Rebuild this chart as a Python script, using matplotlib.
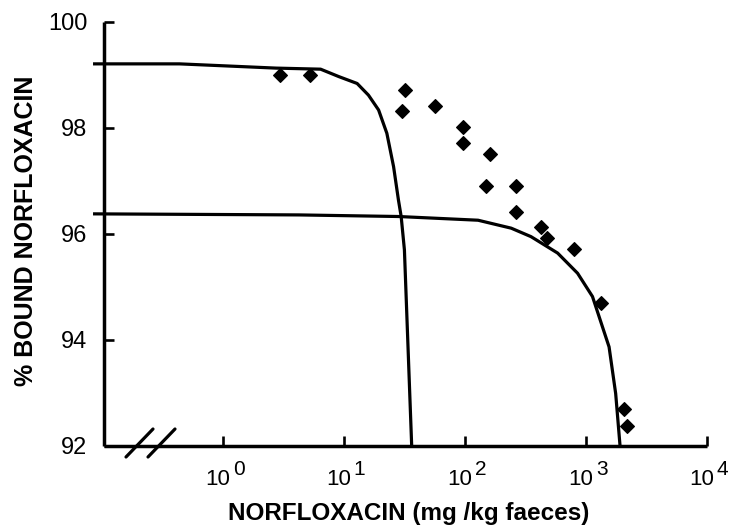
import matplotlib
matplotlib.use("Agg")
import matplotlib.pyplot as plt
from matplotlib.lines import Line2D

plt.rcParams['font.family'] = ['Liberation Sans', 'DejaVu Sans']

# ---- data ----
conc = [3.0, 5.3, 32.1, 30.1, 56.6, 96.8, 96.8, 160, 150, 265, 265,
        426, 477, 801, 1343, 2065, 2197]
bound = [99.0, 99.0, 98.72, 98.32, 98.42, 98.01, 97.71, 97.51, 96.91, 96.91,
         96.41, 96.13, 95.92, 95.71, 94.69, 92.69, 92.38]

curve1_x = [0.085, 0.44, 2.76, 6.44, 9.1, 12.9, 16.0, 19.4, 22.7, 25.8,
            28.3, 29.8, 31.7, 36.4]
curve1_y = [99.21, 99.21, 99.13, 99.11, 98.97, 98.84, 98.62, 98.34, 97.90,
            97.27, 96.64, 96.33, 95.70, 92.0]

curve2_x = [0.085, 4.27, 28.3, 128.6, 241.5, 352, 584, 853, 1133, 1553,
            1761, 1914]
curve2_y = [96.38, 96.36, 96.33, 96.26, 96.11, 95.95, 95.64, 95.26, 94.82,
            93.87, 92.99, 92.0]

xticks = [1, 10, 100, 1000, 10000]
xtick_exp = ['0', '1', '2', '3', '4']
yticks = [92, 94, 96, 98, 100]

xlabel = 'NORFLOXACIN (mg /kg faeces)'
ylabel = '% BOUND NORFLOXACIN'

# ---- figure ----
W, H = 730, 528
fig = plt.figure(figsize=(W / 100, H / 100), dpi=100)
ax_l, ax_r, ax_t, ax_b = 104, 707, 22, 446
ax = fig.add_axes([ax_l / W, (H - ax_b) / H, (ax_r - ax_l) / W, (ax_b - ax_t) / H])

ax.set_xscale('log')
ax.set_xlim(10 ** -0.98, 1e4)
ax.set_ylim(92, 100)

lw_curve = 2.3
ax.plot(curve1_x, curve1_y, color='black', lw=lw_curve, clip_on=False,
        solid_capstyle='butt', solid_joinstyle='round')
ax.plot(curve2_x, curve2_y, color='black', lw=lw_curve, clip_on=False,
        solid_capstyle='butt', solid_joinstyle='round')
ax.plot(conc, bound, linestyle='none', marker='D', ms=7.4, mew=0.8,
        mfc='black', mec='black', clip_on=False, zorder=3)

for s in ['top', 'right']:
    ax.spines[s].set_visible(False)
for s in ['left', 'bottom']:
    ax.spines[s].set_linewidth(2.5)
    ax.spines[s].set_capstyle('butt')

ax.set_yticks(yticks)
ax.set_yticklabels([str(v) for v in yticks])
ax.tick_params(axis='y', direction='in', length=7.5, width=1.9, pad=12,
               labelsize=17)
ax.set_xticks(xticks)
ax.set_xticklabels([])
ax.xaxis.set_minor_locator(matplotlib.ticker.NullLocator())
ax.tick_params(axis='x', direction='in', length=7, width=1.9)

# x tick labels: "10" with a large raised exponent
for xv, e in zip(xticks, xtick_exp):
    ax.annotate('10', xy=(xv, 0), xycoords=('data', 'axes fraction'),
                xytext=(7, -39), textcoords='offset pixels',
                ha='right', va='baseline', fontsize=16, annotation_clip=False)
    ax.annotate(e, xy=(xv, 0), xycoords=('data', 'axes fraction'),
                xytext=(10, -29), textcoords='offset pixels',
                ha='left', va='baseline', fontsize=15, annotation_clip=False)

# axis break marks
aw, ah = ax_r - ax_l, ax_b - ax_t
for x0, x1 in [(126, 153), (148, 175)]:
    ax.add_line(Line2D([(x0 - ax_l) / aw, (x1 - ax_l) / aw],
                       [(ax_b - 457) / ah, (ax_b - 429) / ah],
                       transform=ax.transAxes, color='black', lw=2.3,
                       solid_capstyle='round', clip_on=False))

ax.set_xlabel(xlabel, fontsize=17.5, fontweight='bold', va='baseline')
ax.xaxis.set_label_coords((409 - ax_l) / aw, (ax_b - 520) / ah)
ax.set_ylabel(ylabel, fontsize=18, fontweight='bold', va='baseline')
ax.yaxis.set_label_coords((33 - ax_l) / aw, (ax_b - 231) / ah)

fig.savefig('out.png', dpi=100, facecolor='white')
